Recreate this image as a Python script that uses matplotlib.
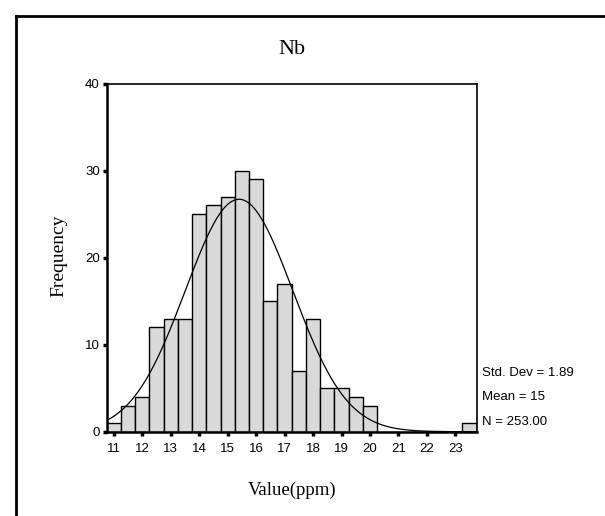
import numpy as np
import matplotlib
matplotlib.use('Agg')
import matplotlib.pyplot as plt
from matplotlib.lines import Line2D

# Histogram of Nb values (bin midpoints, 0.5 ppm wide) and counts
bin_centers = [11.0, 11.5, 12.0, 12.5, 13.0, 13.5, 14.0, 14.5, 15.0, 15.5,
               16.0, 16.5, 17.0, 17.5, 18.0, 18.5, 19.0, 19.5, 20.0, 20.5,
               21.0, 21.5, 22.0, 22.5, 23.0, 23.5]
counts = [1, 3, 4, 12, 13, 13, 25, 26, 27, 30,
          29, 15, 17, 7, 13, 5, 5, 4, 3, 0,
          0, 0, 0, 0, 0, 1]
x_ticks = list(range(11, 24))
y_ticks = [0, 10, 20, 30, 40]

# normal curve parameters (fitted curve as drawn)
n_total = 253
mean_fit = 15.4
std_fit = 1.89
bin_width = 0.5
stats_lines = ['Std. Dev = 1.89', 'Mean = 15', 'N = 253.00']

W, H = 605, 516
fig = plt.figure(figsize=(W / 100, H / 100), dpi=100)
fig.patch.set_facecolor('white')

# outer frame (top and left edges visible)
fig.add_artist(Line2D([16 / W, 1.0], [1 - 16 / H, 1 - 16 / H], color='black', lw=2))
fig.add_artist(Line2D([16 / W, 16 / W], [0.0, 1 - 16 / H], color='black', lw=2))

left, right, top, bottom = 106.7, 476.7, 83.5, 431.7
ax = fig.add_axes([left / W, 1 - bottom / H, (right - left) / W, (bottom - top) / H])

ax.bar(bin_centers, counts, width=bin_width, color='#d9d9d9', edgecolor='black', linewidth=1.0)

xs = np.linspace(10.75, 23.75, 400)
ys = n_total * bin_width / (std_fit * np.sqrt(2 * np.pi)) * np.exp(-0.5 * ((xs - mean_fit) / std_fit) ** 2)
ax.plot(xs, ys, color='black', lw=0.9)

ax.set_xlim(10.75, 23.75)
ax.set_ylim(0, 40)
ax.set_xticks(x_ticks)
ax.set_yticks(y_ticks)
ax.set_xticklabels([str(t) for t in x_ticks], family='Liberation Sans', fontsize=9.5)
ax.set_yticklabels([str(t) for t in y_ticks], family='Liberation Sans', fontsize=9.5)
ax.tick_params(axis='x', direction='out', length=3, width=2.5, pad=5)
ax.tick_params(axis='y', direction='out', length=3, width=2.5, pad=2)
for s in ['left', 'bottom']:
    ax.spines[s].set_linewidth(1.8)
for s in ['top', 'right']:
    ax.spines[s].set_linewidth(1.2)

fig.text(292 / W, 1 - 50 / H, 'Nb', ha='center', va='center',
         family='Liberation Serif', fontsize=16)
fig.text(292 / W, 1 - 490 / H, 'Value(ppm)', ha='center', va='center',
         family='Liberation Serif', fontsize=13.5)
fig.text(59 / W, 1 - 256 / H, 'Frequency', ha='center', va='center', rotation=90,
         family='Liberation Serif', fontsize=14)

for i, line in enumerate(stats_lines):
    fig.text(482 / W, 1 - (373 + 24.5 * i) / H, line, ha='left', va='center',
             family='Liberation Sans', fontsize=9.5)

fig.savefig('out.png', dpi=100)
